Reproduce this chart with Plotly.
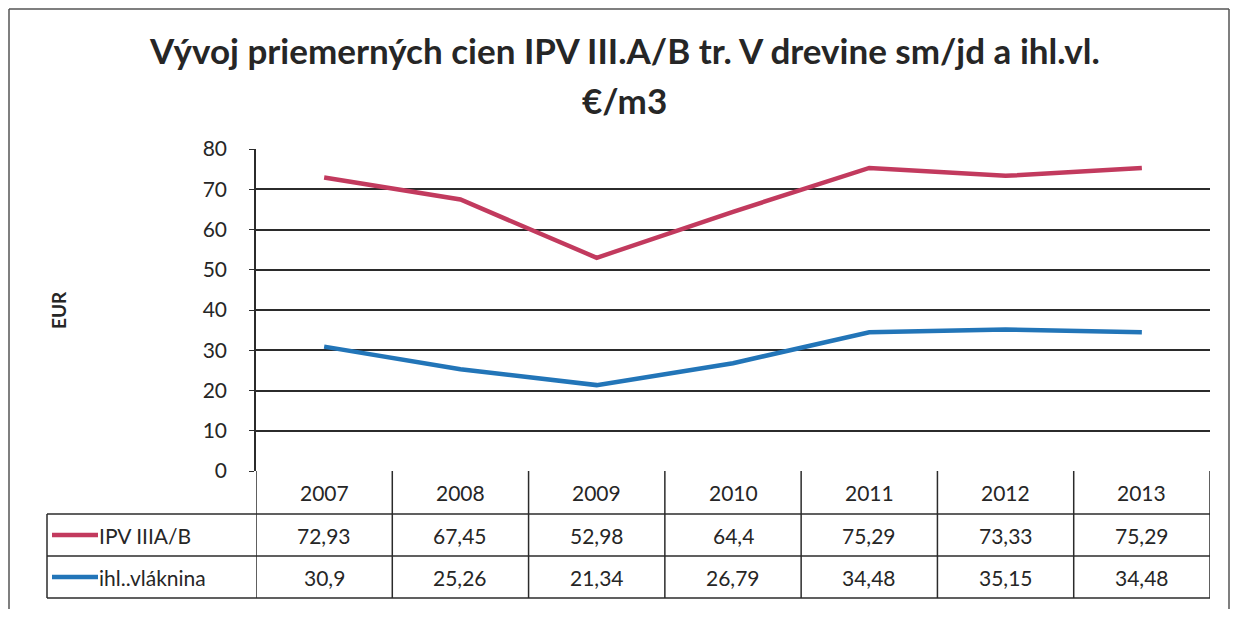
import plotly.graph_objects as go

# data
years = ["2007", "2008", "2009", "2010", "2011", "2012", "2013"]
ipv = [72.93, 67.45, 52.98, 64.4, 75.29, 73.33, 75.29]
vlaknina = [30.9, 25.26, 21.34, 26.79, 34.48, 35.15, 34.48]
series_names = ["IPV IIIA/B", "ihl..vláknina"]
y_ticks = [0, 10, 20, 30, 40, 50, 60, 70, 80]

# page body has an 8px margin, so the figure is made to fit inside it
OFF = 8
FW, FH = 1238 - 2 * OFF, 617 - 2 * OFF
RED = "#C23A5E"
BLUE = "#2275B8"
GRID = "#2b2b2b"
TXT = "#262626"
FONT = "Lato"


def px_x(px):
    # screen pixel column -> paper x
    return (px - OFF) / FW


def py(px):
    # screen pixel row -> paper y
    return 1 - (px - OFF) / FH


def fmt(v):
    return f"{v:g}".replace(".", ",")


fig = go.Figure()

for name, vals, col in [(series_names[0], ipv, RED), (series_names[1], vlaknina, BLUE)]:
    fig.add_trace(go.Scatter(
        x=years, y=vals, mode="lines", name=name,
        line=dict(color=col, width=4.5),
        showlegend=False, cliponaxis=False
    ))

shapes = []
annotations = []

# table rows (screen pixel positions)
row_top, row1, row2, row_bot = 471, 514, 556, 598
x_left_px = 47
x_right_px = 1210
line_style = dict(color=GRID, width=1.5)

# horizontal table lines
for r in (row1, row2, row_bot):
    shapes.append(dict(type="line", xref="paper", yref="paper", x0=px_x(x_left_px), x1=px_x(x_right_px),
                       y0=py(r), y1=py(r), line=line_style))
# vertical column lines
for i in range(len(years) + 1):
    shapes.append(dict(type="line", xref="x", yref="paper", x0=i - 0.5, x1=i - 0.5,
                       y0=py(row_top), y1=py(row_bot), line=line_style))
# legend column left border
shapes.append(dict(type="line", xref="paper", yref="paper", x0=px_x(x_left_px), x1=px_x(x_left_px),
                   y0=py(row1), y1=py(row_bot), line=line_style))

# outer chart frame (left, top, right)
frame = dict(color="#555555", width=1.5)
shapes.append(dict(type="line", xref="paper", yref="paper", x0=px_x(9), x1=px_x(9), y0=0, y1=py(9), line=frame))
shapes.append(dict(type="line", xref="paper", yref="paper", x0=px_x(9), x1=px_x(1229), y0=py(9), y1=py(9), line=frame))
shapes.append(dict(type="line", xref="paper", yref="paper", x0=px_x(1229), x1=px_x(1229), y0=0, y1=py(9), line=frame))


def label(x, y, text, size, xref="paper", xanchor="center", angle=0):
    return dict(x=x, y=y, xref=xref, yref="paper", xanchor=xanchor, yanchor="middle",
                textangle=angle, text=text, showarrow=False,
                font=dict(family=FONT, size=size, color=TXT))


# header years
for i, yr in enumerate(years):
    annotations.append(label(i, py((row_top + row1) / 2), yr, 21, xref="x"))
# values
for vals, r0, r1 in [(ipv, row1, row2), (vlaknina, row2, row_bot)]:
    for i, v in enumerate(vals):
        annotations.append(label(i, py((r0 + r1) / 2), fmt(v), 21, xref="x"))

# legend keys in the table
for name, col, r0, r1 in [(series_names[0], RED, row1, row2), (series_names[1], BLUE, row2, row_bot)]:
    yc = py((r0 + r1) / 2)
    shapes.append(dict(type="line", xref="paper", yref="paper", x0=px_x(52), x1=px_x(98),
                       y0=yc, y1=yc, line=dict(color=col, width=4.5)))
    annotations.append(label(px_x(97), yc, name, 21, xanchor="left"))

# title lines
annotations.append(label(px_x(624), py(50),
                         "<b>Vývoj priemerných cien IPV III.A/B tr. V drevine sm/jd a ihl.vl.</b>", 35))
annotations.append(label(px_x(624), py(100), "<b>€/m3</b>", 35))

# y axis title
annotations.append(label(px_x(58), py(310), "<b>EUR</b>", 19, angle=-90))

fig.update_layout(
    width=FW, height=FH,
    margin=dict(l=0, r=0, t=0, b=0, autoexpand=False),
    plot_bgcolor="white", paper_bgcolor="white",
    xaxis=dict(type="category", domain=[px_x(256), px_x(x_right_px)], range=[-0.5, 6.5],
               showticklabels=False, showgrid=False, zeroline=False, showline=False,
               automargin=False),
    yaxis=dict(domain=[py(row_top), py(149)], range=[0, 80], tickvals=y_ticks,
               showgrid=True, gridcolor=GRID, gridwidth=1.5, zeroline=False,
               showline=True, linecolor=GRID, linewidth=1.5, automargin=False,
               ticks="outside", ticklen=5, tickcolor=GRID, ticklabelstandoff=18,
               tickfont=dict(family=FONT, size=21, color=TXT)),
    shapes=shapes,
    annotations=annotations,
)

fig.write_html("out.html")
